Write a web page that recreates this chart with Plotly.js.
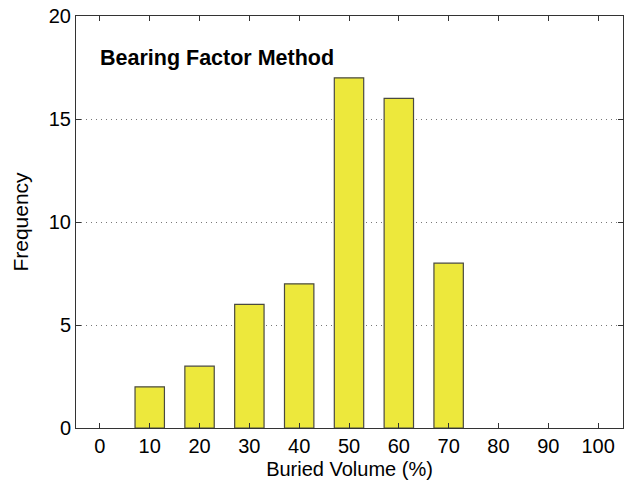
<!DOCTYPE html>
<html><head><meta charset="utf-8">
<script src="https://cdn.plot.ly/plotly-3.0.1.min.js"></script>
<style>html,body{margin:0;padding:0;background:#fff}</style>
</head><body><div id="chart" style="width:638px;height:487px"></div>
<script>
const binCenters = [10, 20, 30, 40, 50, 60, 70];
const frequencies = [2, 3, 6, 7, 17, 16, 8];
const xTickVals = [0,10,20,30,40,50,60,70,80,90,100];
const yTickVals = [0,5,10,15,20];
const titleText = 'Bearing Factor Method';

const trace = {
  type: 'bar', x: binCenters, y: frequencies, width: 5.9,
  marker: {color: '#EDE83C', line: {color: '#4a4a40', width: 1.2}},
  hoverinfo: 'skip'
};
const font = {family: 'Liberation Sans, Arial, sans-serif', size: 20, color: '#000'};
const layout = {
  width: 638, height: 487,
  margin: {l: 76, r: 15, t: 16, b: 59},
  paper_bgcolor: '#fff', plot_bgcolor: '#fff',
  font: font,
  showlegend: false,
  xaxis: {
    range: [-4.8, 105], tickvals: xTickVals, ticktext: xTickVals.map(String),
    ticks: 'inside', ticklen: 5, tickcolor: '#333', showgrid: false, zeroline: false,
    showline: true, linecolor: '#333', linewidth: 1, mirror: 'ticks',
    title: {text: 'Buried Volume (%)', font: font, standoff: 5},
    tickfont: font
  },
  yaxis: {
    range: [0, 20], tickvals: yTickVals, ticktext: yTickVals.map(String),
    ticks: 'inside', ticklen: 5, tickcolor: '#333',
    showgrid: true, gridcolor: '#777', griddash: '1px,4px', gridwidth: 1, zeroline: false,
    showline: true, linecolor: '#333', linewidth: 1, mirror: 'ticks',
    title: {text: 'Frequency', font: {family: 'Liberation Sans, Arial, sans-serif', size: 21, color: '#000'}, standoff: 14},
    tickfont: font
  },
  annotations: [{
    text: '<b>' + titleText + '</b>', xref: 'paper', yref: 'paper',
    x: 0.04, y: 0.898, xanchor: 'left', yanchor: 'middle', showarrow: false,
    font: {family: 'Liberation Sans, Arial, sans-serif', size: 21.5, color: '#000'}
  }]
};
Plotly.newPlot('chart', [trace], layout, {staticPlot: true});
</script></body></html>
